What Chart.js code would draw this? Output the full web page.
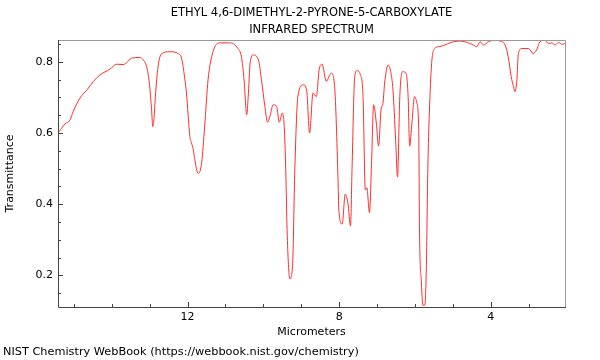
<!DOCTYPE html>
<html>
<head>
<meta charset="utf-8">
<script src="https://cdn.jsdelivr.net/npm/chart.js@4.4.0/dist/chart.umd.min.js"></script>
<style>
html,body{margin:0;padding:0;background:#fff;}
#c{display:block;}
</style>
</head>
<body>
<canvas id="c" width="600" height="360"></canvas>
<script>
// ---- data ----
const titleLines = ['ETHYL 4,6-DIMETHYL-2-PYRONE-5-CARBOXYLATE', 'INFRARED SPECTRUM'];
const xAxisTitle = 'Micrometers';
const yAxisTitle = 'Transmittance';
const footerText = 'NIST Chemistry WebBook (https://webbook.nist.gov/chemistry)';
const xTickLabels = [12, 8, 4];
const yTickLabels = [0.2, 0.4, 0.6, 0.8];
const xRange = [2.04, 15.42];
const yRange = [0.111, 0.861];

const wavelength = [
 15.42,15.235,15.10,15.02,14.84,14.66,14.49,14.31,14.05,13.87,13.70,13.61,13.48,13.26,13.17,13.08,13.01,12.95,12.92,12.89,12.85,12.78,12.69,12.47,12.25,12.16,12.07,12.03,11.94,11.90,11.85,11.81,11.72,11.63,11.55,11.46,11.33,11.15,10.89,10.67,10.58,10.51,10.44,10.40,10.35,10.27,10.13,10.05,9.96,9.89,9.83,9.74,9.65,9.58,9.50,9.45,9.41,9.37,9.30,9.23,9.17,9.09,8.95,8.86,8.78,8.69,8.60,8.53,8.45,8.34,8.21,8.12,8.03,8.01,7.92,7.84,7.77,7.70,7.66,7.59,7.53,7.44,7.37,7.31,7.27,7.20,7.15,7.09,7.02,6.96,6.89,6.85,6.80,6.71,6.64,6.58,6.51,6.46,6.40,6.33,6.24,6.18,6.14,6.08,6.01,5.95,5.90,5.88,5.83,5.79,5.74,5.70,5.66,5.62,5.56,5.48,5.34,5.21,5.08,4.81,4.59,4.46,4.37,4.28,4.19,4.06,3.89,3.76,3.62,3.54,3.46,3.40,3.36,3.31,3.27,3.18,3.00,2.88,2.79,2.70,2.57,2.48,2.39,2.30,2.21,2.12,2.04
];
const transmittance = [
 0.600,0.625,0.637,0.660,0.698,0.720,0.744,0.763,0.779,0.793,0.792,0.797,0.810,0.812,0.805,0.786,0.740,0.665,0.618,0.637,0.702,0.786,0.822,0.828,0.823,0.810,0.749,0.712,0.590,0.573,0.553,0.525,0.486,0.516,0.618,0.749,0.828,0.853,0.853,0.837,0.814,0.749,0.651,0.702,0.796,0.819,0.805,0.749,0.674,0.630,0.646,0.679,0.674,0.630,0.656,0.618,0.497,0.311,0.190,0.227,0.497,0.702,0.735,0.721,0.600,0.712,0.702,0.777,0.793,0.745,0.768,0.730,0.470,0.386,0.344,0.428,0.404,0.339,0.500,0.758,0.775,0.763,0.702,0.440,0.446,0.376,0.500,0.679,0.628,0.563,0.670,0.679,0.740,0.791,0.772,0.721,0.581,0.476,0.702,0.772,0.768,0.702,0.563,0.628,0.702,0.684,0.609,0.330,0.181,0.116,0.116,0.218,0.500,0.656,0.795,0.837,0.843,0.847,0.853,0.858,0.853,0.847,0.842,0.856,0.847,0.856,0.861,0.858,0.847,0.814,0.758,0.730,0.716,0.749,0.823,0.837,0.837,0.823,0.833,0.856,0.861,0.851,0.853,0.847,0.854,0.849,0.851
];

const FONT = 'DejaVu Sans';
const points = wavelength.map((w, i) => ({x: w, y: transmittance[i]}));

const near = (v, arr) => arr.some(a => Math.abs(a - v) < 1e-6);

const framePlugin = {
  id: 'frame',
  afterDraw(chart) {
    const {ctx, chartArea: a, scales: {x, y}} = chart;
    ctx.save();
    // frame
    ctx.lineWidth = 1;
    ctx.strokeStyle = '#999';
    ctx.beginPath();
    ctx.moveTo(a.left, a.top + 0.5); ctx.lineTo(a.right + 0.5, a.top + 0.5);
    ctx.lineTo(a.right + 0.5, a.bottom);
    ctx.stroke();
    ctx.strokeStyle = '#444';
    ctx.beginPath();
    ctx.moveTo(a.left + 0.5, a.top); ctx.lineTo(a.left + 0.5, a.bottom + 0.5);
    ctx.lineTo(a.right + 1, a.bottom + 0.5);
    ctx.stroke();
    // inward ticks
    ctx.strokeStyle = '#444';
    ctx.beginPath();
    for (let v = Math.ceil(xRange[0]); v <= Math.floor(xRange[1]); v++) {
      const px = Math.round(x.getPixelForValue(v)) + 0.5;
      const len = near(v, xTickLabels) ? 5 : 3;
      ctx.moveTo(px, a.bottom); ctx.lineTo(px, a.bottom - len);
    }
    for (let k = Math.ceil(yRange[0] * 20); k <= Math.floor(yRange[1] * 20); k++) {
      const v = k / 20;
      const py = Math.round(y.getPixelForValue(v)) + 0.5;
      const len = near(v, yTickLabels) ? 5 : 3;
      ctx.moveTo(a.left, py); ctx.lineTo(a.left + len, py);
    }
    ctx.stroke();
    // title
    ctx.fillStyle = '#000';
    ctx.font = '11.5px "' + FONT + '"';
    ctx.textAlign = 'center';
    ctx.textBaseline = 'middle';
    const cx = (a.left + a.right) / 2;
    ctx.fillText(titleLines[0], cx, 13);
    ctx.fillText(titleLines[1], cx, 30);
    // footer
    ctx.font = '11.3px "' + FONT + '"';
    ctx.textAlign = 'left';
    ctx.fillText(footerText, 3, 352);
    ctx.restore();
  }
};

new Chart(document.getElementById('c'), {
  type: 'scatter',
  data: {
    datasets: [{
      data: points,
      showLine: true,
      borderColor: 'rgb(255,45,45)',
      borderWidth: 1,
      pointRadius: 0,
      cubicInterpolationMode: 'monotone',
      fill: false
    }]
  },
  options: {
    responsive: false,
    animation: false,
    devicePixelRatio: 1,
    layout: {padding: {left: 0, right: 35, top: 40, bottom: 20}},
    plugins: {legend: {display: false}, tooltip: {enabled: false}, title: {display: false}},
    scales: {
      x: {
        type: 'linear',
        reverse: true,
        min: xRange[0], max: xRange[1],
        border: {display: false},
        grid: {display: false, drawTicks: false},
        ticks: {
          stepSize: 4,
          autoSkip: false,
          maxRotation: 0,
          padding: 4,
          color: '#000',
          font: {family: FONT, size: 11},
          callback: v => near(v, xTickLabels) ? String(Math.round(v)) : ''
        },
        title: {display: true, text: xAxisTitle, color: '#000', font: {family: FONT, size: 11}, padding: {top: 0, bottom: 1}},
        afterFit: s => { s.height = 33; }
      },
      y: {
        type: 'linear',
        min: yRange[0], max: yRange[1],
        border: {display: false},
        grid: {display: false, drawTicks: false},
        ticks: {
          stepSize: 0.2,
          autoSkip: false,
          padding: 5,
          color: '#000',
          font: {family: FONT, size: 11},
          callback: v => near(v, yTickLabels) ? v.toFixed(1) : ''
        },
        title: {display: true, text: yAxisTitle, color: '#000', font: {family: FONT, size: 11}, padding: {top: 4, bottom: 0}},
        afterFit: s => { s.width = 58; }
      }
    }
  },
  plugins: [framePlugin]
});
</script>
</body>
</html>
